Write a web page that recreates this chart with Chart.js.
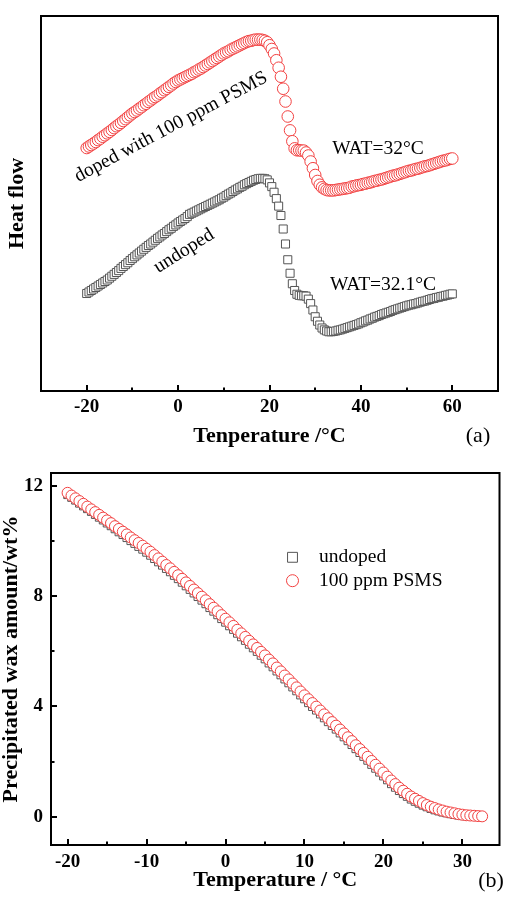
<!DOCTYPE html>
<html>
<head>
<meta charset="utf-8">
<script src="https://cdn.jsdelivr.net/npm/chart.js@4.4.1/dist/chart.umd.min.js"></script>
<style>
  body { margin: 0; background: #fff; }
  .panel { position: absolute; left: 0; width: 506px; height: 450px; }
</style>
</head>
<body>
<div class="panel" style="top:0"><canvas id="heatChart" width="506" height="450"></canvas></div>
<div class="panel" style="top:450px"><canvas id="waxChart" width="506" height="450"></canvas></div>
<script>
// ---- panel (a): DSC heat flow (arbitrary units) ----
const tempA = [
  -20, -19.5, -19, -18.5, -18, -17.5, -17, -16.5, -16, -15.5, -15, -14.5, -14, -13.5, -13, -12.5, -12, -11.5, -11, -10.5,
  -10, -9.5, -9, -8.5, -8, -7.5, -7, -6.5, -6, -5.5, -5, -4.5, -4, -3.5, -3, -2.5, -2, -1.5, -1, -0.5,
  0, 0.5, 1, 1.5, 2, 2.5, 3, 3.5, 4, 4.5, 5, 5.5, 6, 6.5, 7, 7.5, 8, 8.5, 9, 9.5,
  10, 10.5, 11, 11.5, 12, 12.5, 13, 13.5, 14, 14.5, 15, 15.5, 16, 16.5, 17, 17.5, 18, 18.5, 19, 19.5,
  20, 20.5, 21, 21.5, 22, 22.5, 23, 23.5, 24, 24.5, 25, 25.5, 26, 26.5, 27, 27.5, 28, 28.5, 29, 29.5,
  30, 30.5, 31, 31.5, 32, 32.5, 33, 33.5, 34, 34.5, 35, 35.5, 36, 36.5, 37, 37.5, 38, 38.5, 39, 39.5,
  40, 40.5, 41, 41.5, 42, 42.5, 43, 43.5, 44, 44.5, 45, 45.5, 46, 46.5, 47, 47.5, 48, 48.5, 49, 49.5,
  50, 50.5, 51, 51.5, 52, 52.5, 53, 53.5, 54, 54.5, 55, 55.5, 56, 56.5, 57, 57.5, 58, 58.5, 59, 59.5, 60
];
const heatDoped = [
  6.48, 6.52, 6.56, 6.60, 6.64, 6.69, 6.73, 6.78, 6.82, 6.87, 6.91, 6.96, 7.01, 7.06, 7.10, 7.15, 7.20, 7.25, 7.30, 7.35,
  7.40, 7.44, 7.48, 7.53, 7.57, 7.62, 7.66, 7.71, 7.75, 7.80, 7.84, 7.88, 7.93, 7.97, 8.02, 8.06, 8.11, 8.15, 8.20, 8.24,
  8.28, 8.31, 8.34, 8.37, 8.40, 8.43, 8.46, 8.50, 8.53, 8.57, 8.60, 8.64, 8.68, 8.72, 8.76, 8.80, 8.84, 8.88, 8.92, 8.96,
  9.00, 9.03, 9.06, 9.10, 9.13, 9.16, 9.19, 9.22, 9.25, 9.28, 9.31, 9.33, 9.34, 9.36, 9.37, 9.37, 9.37, 9.36, 9.34, 9.30,
  9.22, 9.12, 9.00, 8.82, 8.62, 8.38, 8.06, 7.72, 7.32, 6.95, 6.66, 6.47, 6.42, 6.42, 6.41, 6.41, 6.36, 6.28, 6.12, 5.94,
  5.76, 5.60, 5.50, 5.43, 5.39, 5.36, 5.35, 5.35, 5.35, 5.36, 5.37, 5.38, 5.39, 5.40, 5.41, 5.42, 5.45, 5.46, 5.48, 5.49,
  5.50, 5.52, 5.53, 5.55, 5.56, 5.58, 5.60, 5.61, 5.63, 5.64, 5.66, 5.68, 5.70, 5.72, 5.74, 5.75, 5.77, 5.79, 5.81, 5.83,
  5.85, 5.87, 5.88, 5.90, 5.92, 5.93, 5.95, 5.97, 5.99, 6.00, 6.02, 6.04, 6.06, 6.08, 6.10, 6.12, 6.14, 6.15, 6.17, 6.19, 6.20
];
const heatUndoped = [
  2.60, 2.64, 2.68, 2.72, 2.76, 2.80, 2.84, 2.88, 2.92, 2.96, 3.01, 3.06, 3.11, 3.16, 3.21, 3.27, 3.32, 3.37, 3.42, 3.48,
  3.53, 3.58, 3.63, 3.68, 3.73, 3.78, 3.83, 3.88, 3.92, 3.97, 4.02, 4.07, 4.11, 4.16, 4.20, 4.25, 4.30, 4.34, 4.39, 4.43,
  4.48, 4.52, 4.56, 4.60, 4.65, 4.71, 4.74, 4.77, 4.80, 4.83, 4.86, 4.89, 4.92, 4.95, 4.98, 5.01, 5.04, 5.07, 5.10, 5.14,
  5.17, 5.21, 5.25, 5.28, 5.32, 5.36, 5.39, 5.43, 5.46, 5.50, 5.53, 5.56, 5.59, 5.62, 5.64, 5.66, 5.67, 5.67, 5.66, 5.63,
  5.55, 5.45, 5.30, 5.13, 4.93, 4.68, 4.32, 3.92, 3.50, 3.14, 2.86, 2.68, 2.58, 2.55, 2.54, 2.54, 2.53, 2.45, 2.33, 2.16,
  1.98, 1.86, 1.76, 1.68, 1.63, 1.60, 1.58, 1.58, 1.59, 1.60, 1.62, 1.63, 1.65, 1.67, 1.69, 1.71, 1.73, 1.75, 1.77, 1.79,
  1.82, 1.84, 1.87, 1.89, 1.92, 1.94, 1.97, 1.99, 2.01, 2.04, 2.06, 2.08, 2.10, 2.12, 2.15, 2.17, 2.19, 2.21, 2.23, 2.25,
  2.27, 2.29, 2.30, 2.32, 2.33, 2.35, 2.37, 2.39, 2.40, 2.42, 2.44, 2.46, 2.47, 2.49, 2.50, 2.52, 2.53, 2.55, 2.56, 2.58, 2.59
];
const ticksA = [-20, 0, 20, 40, 60];
const minorA = [-10, 10, 30, 50];

// ---- panel (b): precipitated wax amount, wt% ----
const tempB = [
  -20, -19.5, -19, -18.5, -18, -17.5, -17, -16.5, -16, -15.5, -15, -14.5, -14, -13.5, -13, -12.5, -12, -11.5, -11, -10.5,
  -10, -9.5, -9, -8.5, -8, -7.5, -7, -6.5, -6, -5.5, -5, -4.5, -4, -3.5, -3, -2.5, -2, -1.5, -1, -0.5,
  0, 0.5, 1, 1.5, 2, 2.5, 3, 3.5, 4, 4.5, 5, 5.5, 6, 6.5, 7, 7.5, 8, 8.5, 9, 9.5,
  10, 10.5, 11, 11.5, 12, 12.5, 13, 13.5, 14, 14.5, 15, 15.5, 16, 16.5, 17, 17.5, 18, 18.5, 19, 19.5,
  20, 20.5, 21, 21.5, 22, 22.5, 23, 23.5, 24, 24.5, 25, 25.5, 26, 26.5, 27, 27.5, 28, 28.5, 29, 29.5,
  30, 30.5, 31, 31.5, 32, 32.5
];
const waxDoped = [
  11.75, 11.65, 11.55, 11.45, 11.35, 11.25, 11.15, 11.05, 10.95, 10.85, 10.75, 10.65, 10.54, 10.44, 10.34, 10.24, 10.13, 10.03, 9.93, 9.83,
  9.72, 9.61, 9.49, 9.37, 9.25, 9.13, 9.01, 8.88, 8.76, 8.63, 8.50, 8.37, 8.24, 8.11, 7.98, 7.85, 7.71, 7.58, 7.45, 7.31,
  7.18, 7.05, 6.92, 6.78, 6.65, 6.52, 6.38, 6.25, 6.12, 5.98, 5.85, 5.70, 5.56, 5.41, 5.27, 5.12, 4.98, 4.83, 4.69, 4.54,
  4.40, 4.26, 4.12, 3.99, 3.85, 3.71, 3.57, 3.43, 3.30, 3.16, 3.02, 2.88, 2.74, 2.59, 2.45, 2.31, 2.17, 2.02, 1.88, 1.74,
  1.60, 1.45, 1.31, 1.18, 1.05, 0.94, 0.83, 0.73, 0.65, 0.57, 0.49, 0.42, 0.36, 0.31, 0.26, 0.22, 0.18, 0.15, 0.12, 0.09,
  0.07, 0.05, 0.04, 0.03, 0.02, 0.01
];
const waxUndoped = [
  11.68, 11.58, 11.48, 11.37, 11.27, 11.17, 11.07, 10.96, 10.86, 10.76, 10.65, 10.55, 10.44, 10.33, 10.23, 10.12, 10.01, 9.91, 9.80, 9.70,
  9.59, 9.48, 9.36, 9.24, 9.12, 9.00, 8.88, 8.75, 8.63, 8.50, 8.37, 8.24, 8.11, 7.98, 7.85, 7.72, 7.58, 7.45, 7.32, 7.18,
  7.05, 6.92, 6.79, 6.65, 6.52, 6.39, 6.25, 6.12, 5.99, 5.85, 5.72, 5.57, 5.43, 5.28, 5.14, 4.99, 4.85, 4.70, 4.56, 4.41,
  4.27, 4.13, 3.99, 3.86, 3.72, 3.58, 3.44, 3.30, 3.17, 3.03, 2.89, 2.75, 2.61, 2.46, 2.32, 2.18, 2.04, 1.89, 1.75, 1.61,
  1.47, 1.33, 1.19, 1.06, 0.94, 0.83, 0.73, 0.63, 0.55, 0.48, 0.41, 0.35, 0.29, 0.24, 0.20, 0.16, 0.13, 0.10, 0.07, 0.05,
  0.03, 0.02, 0.01, 0.00, 0.00, 0.00
];
const ticksBx = [-20, -10, 0, 10, 20, 30];
const minorBx = [-15, -5, 5, 15, 25];
const ticksBy = [0, 4, 8, 12];
const minorBy = [2, 6, 10];

const SERIF = '"Liberation Serif", "Times New Roman", serif';
const RED = 'rgb(242, 64, 64)';
const GRAY = 'rgb(85, 85, 85)';

Chart.defaults.font.family = SERIF;
Chart.defaults.color = '#000';

function toPoints(xs, ys) {
    return xs.map((x, i) => ({ x: x, y: ys[i] }));
}

function fixedTicks(values) {
    return function(scale) {
        scale.ticks = values.map(v => ({ value: v }));
    };
}

function drawMarker(ctx, ds, x, y, r) {
    ctx.beginPath();
    if (ds.pointStyle === 'rect') {
        const s = r * Math.SQRT1_2;
        ctx.rect(x - s, y - s, 2 * s, 2 * s);
    } else {
        ctx.arc(x, y, r, 0, Math.PI * 2);
    }
    ctx.fillStyle = '#fff';
    ctx.fill();
    ctx.lineWidth = 1;
    ctx.strokeStyle = ds.borderColor;
    ctx.stroke();
}

// box frame, inward tick marks, free text and legend
function framePlugin(cfg) {
    return {
        id: 'frame',
        afterDatasetsDraw(chart) {
            const { ctx, chartArea: a, scales } = chart;
            ctx.save();
            ctx.strokeStyle = '#000';
            ctx.lineWidth = 2;
            ctx.strokeRect(a.left, a.top, a.right - a.left, a.bottom - a.top);

            const xTicks = (vals, len) => vals.forEach(v => {
                const px = Math.round(scales.x.getPixelForValue(v));
                ctx.beginPath();
                ctx.moveTo(px, a.bottom);
                ctx.lineTo(px, a.bottom - len);
                ctx.stroke();
            });
            const yTicks = (vals, len) => vals.forEach(v => {
                const py = Math.round(scales.y.getPixelForValue(v));
                ctx.beginPath();
                ctx.moveTo(a.left, py);
                ctx.lineTo(a.left + len, py);
                ctx.stroke();
            });
            xTicks(cfg.xMajor, 6);
            xTicks(cfg.xMinor, 3.5);
            if (cfg.yMajor) {
                yTicks(cfg.yMajor, 6);
                yTicks(cfg.yMinor, 3.5);
            }

            ctx.fillStyle = '#000';
            cfg.texts.forEach(t => {
                ctx.save();
                ctx.translate(t.x, t.y);
                if (t.angle) ctx.rotate(t.angle * Math.PI / 180);
                ctx.font = t.font;
                ctx.textAlign = t.align || 'center';
                ctx.textBaseline = 'middle';
                ctx.fillText(t.text, 0, 0);
                ctx.restore();
            });

            if (cfg.legend) {
                const L = cfg.legend;
                L.items.forEach((idx, i) => {
                    const ds = chart.data.datasets[idx];
                    const y = L.y + i * L.gap;
                    drawMarker(ctx, ds, L.x, y, ds.pointStyle === 'rect' ? 7 : 6);
                    ctx.fillStyle = '#000';
                    ctx.font = L.font;
                    ctx.textAlign = 'left';
                    ctx.textBaseline = 'middle';
                    ctx.fillText(ds.label, L.textX, y);
                });
            }
            ctx.restore();
        }
    };
}

const tickFont = { size: 19, weight: 'bold', lineHeight: 1.2 };
const titleFont = { size: 22, weight: 'bold', lineHeight: 1 };
const noGrid = { display: false, drawTicks: false };
const noteFont = '19.5px ' + SERIF;

new Chart(document.getElementById('heatChart'), {
    type: 'scatter',
    data: {
        datasets: [{
            label: 'doped with 100 ppm PSMS',
            data: toPoints(tempA, heatDoped),
            pointStyle: 'circle',
            pointRadius: 5.8,
            borderWidth: 1,
            borderColor: RED,
            backgroundColor: '#fff'
        }, {
            label: 'undoped',
            data: toPoints(tempA, heatUndoped),
            pointStyle: 'rect',
            pointRadius: 5.7,
            borderWidth: 1,
            borderColor: GRAY,
            backgroundColor: '#fff'
        }]
    },
    options: {
        responsive: false,
        animation: false,
        layout: { padding: { top: 16, right: 8, left: 0, bottom: 3 } },
        plugins: { legend: { display: false }, tooltip: { enabled: false } },
        scales: {
            x: {
                type: 'linear',
                min: -30,
                max: 70,
                grid: noGrid,
                border: { display: false },
                afterBuildTicks: fixedTicks(ticksA),
                afterFit: s => { s.height = 56; },
                ticks: { padding: 5, font: tickFont, color: '#000' },
                title: { display: true, text: 'Tenperature /°C', font: titleFont, color: '#000', padding: 0 }
            },
            y: {
                min: 0,
                max: 10,
                grid: noGrid,
                border: { display: false },
                ticks: { display: false },
                afterFit: s => { s.width = 41; },
                title: { display: true, text: 'Heat flow', font: titleFont, color: '#000', padding: { top: 6, bottom: 0 } }
            }
        }
    },
    plugins: [framePlugin({
        xMajor: ticksA,
        xMinor: minorA,
        texts: [
            { text: 'doped with 100 ppm PSMS', x: 171, y: 127, angle: -28, font: noteFont },
            { text: 'undoped', x: 184, y: 251, angle: -32, font: noteFont },
            { text: 'WAT=32°C', x: 378, y: 149, font: noteFont },
            { text: 'WAT=32.1°C', x: 383, y: 285, font: noteFont },
            { text: '(a)', x: 478, y: 436, font: '22px ' + SERIF }
        ]
    })]
});

new Chart(document.getElementById('waxChart'), {
    type: 'scatter',
    data: {
        datasets: [{
            label: '100 ppm PSMS',
            data: toPoints(tempB, waxDoped),
            pointStyle: 'circle',
            pointRadius: 5.5,
            borderWidth: 1,
            borderColor: RED,
            backgroundColor: '#fff'
        }, {
            label: 'undoped',
            data: toPoints(tempB, waxUndoped),
            pointStyle: 'rect',
            pointRadius: 5.4,
            borderWidth: 1,
            borderColor: GRAY,
            backgroundColor: '#fff'
        }]
    },
    options: {
        responsive: false,
        animation: false,
        layout: { padding: { top: 23, right: 1, left: 0, bottom: 9 } },
        plugins: { legend: { display: false }, tooltip: { enabled: false } },
        scales: {
            x: {
                type: 'linear',
                min: -22.1,
                max: 34.7,
                grid: noGrid,
                border: { display: false },
                afterBuildTicks: fixedTicks(ticksBx),
                afterFit: s => { s.height = 46; },
                ticks: { padding: 6, font: tickFont, color: '#000' },
                title: { display: true, text: 'Temperature / °C', font: titleFont, color: '#000', padding: 0 }
            },
            y: {
                min: -1.03,
                max: 12.47,
                grid: noGrid,
                border: { display: false },
                afterBuildTicks: fixedTicks(ticksBy),
                afterFit: s => { s.width = 51; },
                ticks: { padding: 8, font: tickFont, color: '#000' },
                title: { display: true, text: 'Precipitated wax amount/wt%', font: titleFont, color: '#000', padding: 0 }
            }
        }
    },
    plugins: [framePlugin({
        xMajor: ticksBx,
        xMinor: minorBx,
        yMajor: ticksBy,
        yMinor: minorBy,
        texts: [
            { text: '(b)', x: 491, y: 431, font: '22px ' + SERIF }
        ],
        legend: { items: [1, 0], x: 292.5, textX: 319, y: 107.3, gap: 23.4, font: '19.5px ' + SERIF }
    })]
});
</script>
</body>
</html>
